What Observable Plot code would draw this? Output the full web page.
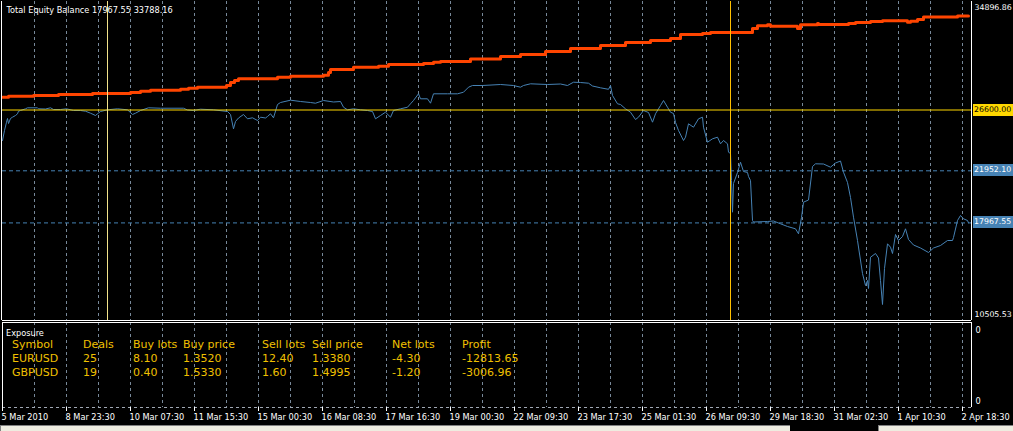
<!DOCTYPE html>
<html><head><meta charset="utf-8">
<script src="https://cdn.jsdelivr.net/npm/d3@7"></script>
<script src="https://cdn.jsdelivr.net/npm/@observablehq/plot@0.6"></script>
<style>
html,body{margin:0;padding:0;background:#000;}
#wrap{position:relative;width:1013px;height:431px;overflow:hidden;background:#000;font-family:"DejaVu Sans",sans-serif;}
#main{position:absolute;left:0;top:0;}
#sub{position:absolute;left:0;top:321px;}
.tag{position:absolute;left:973px;width:40px;height:12px;font-size:7.8px;line-height:12px;padding-left:1px;white-space:nowrap;overflow:visible;box-sizing:border-box;}
.cell{position:absolute;font-size:11px;color:#F0C000;white-space:nowrap;line-height:14px;}
.small{position:absolute;font-size:8.2px;color:#fff;white-space:nowrap;line-height:12px;}
.status{position:absolute;top:425px;height:10px;background:#EEECE0;border-top:1px solid #808080;border-left:1px solid #808080;box-sizing:border-box;}
</style></head><body>
<div id="wrap"><div id="main"></div><div id="sub"></div></div>
<script>
// ---------- data ----------
const timeLabels = ["5 Mar 2010","8 Mar 23:30","10 Mar 07:30","11 Mar 15:30","15 Mar 00:30","16 Mar 08:30","17 Mar 16:30","19 Mar 00:30","22 Mar 09:30","23 Mar 17:30","25 Mar 01:30","26 Mar 09:30","29 Mar 18:30","31 Mar 02:30","1 Apr 10:30","2 Apr 18:30"];
const labelBars = [0,32,64,96,128,160,192,224,256,288,320,352,384,416,448,480];
const gridBars = [16,32,48,64,80,96,112,128,144,160,176,192,208,224,240,256,272,288,304,320,336,352,368,384,400,416,432,448,464,480];
const barMax = 484.5;

const eqBar = [0,1,2,2.5,3,4,5,6.5,7.5,8,9,11.5,12.5,17.5,18,21.5,24,25.5,29,32,35.5,39,41.5,44,46.5,47.5,49,52.5,57.5,62.5,65,66.5,69,73,79,90.5,92.5,95.5,99,105.5,112.5,114,115.5,116.5,118,120.5,122.5,125,127.5,129,131.5,132.5,134,135.5,137.5,139,144,149,154,156.5,160.5,165.5,169,170.5,172.5,175.5,179,182.5,185,186.5,189,191.5,194,195.5,199,202.5,204,205.5,208,209,212.5,214,215.5,222.5,227.5,230.5,233,235,240,249,255.5,259,260.5,264,272.5,279,282.5,285.5,289,293,295,299,303,304,305,307.5,309,311.5,314,316.5,318,320.5,323,325,326.5,329,330.5,332.5,334,335.5,336.5,338,340.5,341.5,343,345.5,348,350,350.5,352.5,355,357.5,359,360.5,362.5,363,364,364.5,365,365.5,367.5,369,370.5,372.5,373,374,375,375.5,382.5,385.5,389,392.5,396.5,398,399.5,400.5,403,405,406.5,410.5,414,416.5,419,420.5,422.5,424,425.5,427.5,430,431.5,432.5,433,434,436.5,438,439,440,441,442.5,444,445,446.5,448,450,451.5,453,455.5,459,463,465.5,469,472.5,475,475.5,477.5,479,480.5,482.5,483];
const eqVal = [24269,25033,25668,25951,25568,25951,26050,26180,26310,26509,26562,26692,26769,26769,26692,26677,26769,26639,26639,26692,26562,26562,26509,26356,26180,26310,26486,26616,26692,26616,26256,26356,26562,26769,26738,26738,26600,26562,26662,26616,26486,26256,25163,25721,25989,26256,25928,26004,25798,26050,25989,26103,26310,26004,27021,27174,27350,27250,27174,27120,27327,27212,27250,26814,26616,26692,26616,26562,26486,25928,26180,26432,26050,26562,26692,26814,27074,27327,27839,27457,27457,27120,27839,27839,27839,27961,28344,28474,28474,28550,28474,28344,28474,28604,28550,28588,28474,28726,28703,28650,28435,28298,28183,28474,27709,27074,27021,26692,26432,25874,26050,26562,26409,25668,26310,26944,27327,26814,26432,26333,25645,25033,24269,24521,25545,25285,25928,26050,25285,24138,24398,24521,24016,24269,24016,23374,23274,21210,18786,20980,21822,22609,21898,21822,21516,21210,18151,18037,18075,18113,17899,17693,17517,17134,18381,19551,19719,22280,22487,22471,22227,22548,22701,21844,21057,19910,18404,16622,14099,13181,13564,12952,15345,15628,15284,13564,11729,14481,16370,16110,15628,17081,16622,16928,17517,16699,16278,16049,15705,16049,16240,16622,16622,16852,18151,18534,18281,18151,17967.55];

const balBar = [0,3,15.5,28,45,64,69,74,89,93,97.5,112,114,116,118,137.5,144,160.5,163,164,175.5,188,193,210.5,215.5,219,234,249,259,271.5,284,299,311.5,324,334,339,350,354,375,377.5,382.5,384,397.5,399,407.5,408,423,426.5,434,440,452.5,454,457.5,460.5,477.5,483];
const balVal = [27580,27648,27710,27786,27862,27939,28038,28115,28191,28267,28344,28474,28703,28856,28986,29109,29185,29262,29467,29697,29873,29950,30080,30156,30256,30309,30500,30691,30844,31074,31303,31533,31762,31915,32068,32374,32450,32526,32832,33039,33115,33008,32832,33115,33215,33138,33215,33291,33368,33421,33314,33390,33520,33720,33788.16,33788.16];

const yLimits = [10505.53, 34896.86];
const priceLines = [26600.00, 21952.10, 17967.55];
const vLineBars = [52.5, 364];

const expHeaders = ["Symbol","Deals","Buy lots","Buy price","Sell lots","Sell price","Net lots","Profit"];
const expSymbols = ["EURUSD","GBPUSD"];
const expDeals = [25, 19];
const expBuyLots = [8.10, 0.40];
const expBuyPrice = [1.3520, 1.5330];
const expSellLots = [12.40, 1.60];
const expSellPrice = [1.3380, 1.4995];
const expNetLots = [-4.30, -1.20];
const expProfit = [-12813.65, -3006.96];
const subAxisLabels = ["0", "0"];

// ---------- build ----------
const equity = eqBar.map((b, i) => ({bar: b, v: eqVal[i]}));
const balance = balBar.map((b, i) => ({bar: b, v: balVal[i]}));
const title = `Total Equity Balance ${eqVal[eqVal.length-1].toFixed(2)} ${balVal[balVal.length-1].toFixed(2)}`;
const font = {background: "#000", fontFamily: "DejaVu Sans", fontSize: "8.2px", overflow: "visible"};
const gridStyle = {stroke: "#778899", strokeDasharray: "3,3"};

const main = Plot.plot({
  width: 1013, height: 321,
  marginLeft: 2, marginRight: 42, marginTop: 1, marginBottom: 1,
  style: font,
  x: {domain: [0, barMax], axis: null},
  y: {domain: yLimits, axis: null},
  marks: [
    Plot.ruleX(gridBars, gridStyle),
    Plot.line(balance, {x: "bar", y: "v", curve: "step-after", stroke: "#FF4500", strokeWidth: 3}),
    Plot.line(equity, {x: "bar", y: "v", stroke: "#4682B4", strokeWidth: 1}),
    Plot.ruleY([priceLines[0]], {stroke: "#FFD700"}),
    Plot.ruleY(priceLines.slice(1), {stroke: "#4682B4", strokeDasharray: "4,3"}),
    Plot.ruleX([vLineBars[0]], {stroke: "#F3E38A"}),
    Plot.ruleX([vLineBars[1]], {stroke: "#FFC000"}),
    Plot.ruleX([0], {stroke: "#fff", dx: -1}),
    Plot.ruleX([barMax], {stroke: "#fff"}),
    Plot.ruleY([yLimits[0]], {stroke: "#fff"}),
    Plot.text([title], {frameAnchor: "top-left", textAnchor: "start", lineAnchor: "middle", dx: 4, dy: 9, fill: "#fff"}),
    Plot.text([yLimits[1]], {text: d => d.toFixed(2), frameAnchor: "top-right", textAnchor: "start", lineAnchor: "middle", dx: 3, dy: 6, fill: "#fff", fontSize: 7.8}),
    Plot.text([yLimits[0]], {text: d => d.toFixed(2), frameAnchor: "bottom-right", textAnchor: "start", lineAnchor: "middle", dx: 3, dy: -6, fill: "#fff", fontSize: 7.8})
  ]
});
document.getElementById("main").appendChild(main);

// price tags on the right, positioned with the plot's own y scale
const ys = main.scale("y");
const wrap = document.getElementById("wrap");
priceLines.forEach((v, i) => {
  const d = document.createElement("div");
  d.className = "tag";
  d.textContent = v.toFixed(2);
  d.style.top = (ys.apply(v) - 6) + "px";
  d.style.background = i === 0 ? "#FFD700" : "#4682B4";
  d.style.color = i === 0 ? "#000" : "#fff";
  wrap.appendChild(d);
});

const sub = Plot.plot({
  width: 1013, height: 104,
  marginLeft: 2, marginRight: 42, marginTop: 1, marginBottom: 18,
  style: font,
  x: {domain: [0, barMax]},
  y: {domain: [0, 1], axis: null},
  marks: [
    Plot.ruleX(gridBars, gridStyle),
    Plot.ruleY([0], {stroke: "#A0A8B4", strokeDasharray: "3,3"}),
    Plot.ruleY([1], {stroke: "#fff"}),
    Plot.ruleX([0], {stroke: "#fff"}),
    Plot.ruleX([barMax], {stroke: "#fff"}),
    Plot.axisX(labelBars, {tickSize: 4, tickFormat: () => "", stroke: "#fff"}),
    Plot.text(labelBars, {x: d => d, text: (d, i) => timeLabels[i], frameAnchor: "bottom", textAnchor: "start", lineAnchor: "middle", dx: -1, dy: 10, fill: "#fff"}),
    Plot.text([subAxisLabels[0]], {frameAnchor: "top-right", textAnchor: "start", lineAnchor: "middle", dx: 4, dy: 8, fill: "#fff"}),
    Plot.text([subAxisLabels[1]], {frameAnchor: "bottom-right", textAnchor: "start", lineAnchor: "middle", dx: 4, dy: -6, fill: "#fff"})
  ]
});
document.getElementById("sub").appendChild(sub);

// exposure table (text)
const colX = [12, 83, 133, 183, 262, 312, 392, 462];
const rowTop = [338, 352, 366];
function addCell(txt, x, y, cls) {
  const d = document.createElement("div");
  d.className = cls; d.textContent = txt;
  d.style.left = x + "px"; d.style.top = y + "px";
  wrap.appendChild(d);
}
addCell("Exposure", 6, 327, "small");
expHeaders.forEach((h, j) => addCell(h, colX[j], rowTop[0], "cell"));
expSymbols.forEach((s, r) => {
  const vals = [s, String(expDeals[r]), expBuyLots[r].toFixed(2), expBuyPrice[r].toFixed(4),
    expSellLots[r].toFixed(2), expSellPrice[r].toFixed(4), expNetLots[r].toFixed(2), expProfit[r].toFixed(2)];
  vals.forEach((t, j) => addCell(t, colX[j], rowTop[r + 1], "cell"));
});

// status bar panes
[[0, 790], [878, 140]].forEach(([l, w]) => {
  const d = document.createElement("div");
  d.className = "status"; d.style.left = l + "px"; d.style.width = w + "px";
  wrap.appendChild(d);
});
</script></body></html>
